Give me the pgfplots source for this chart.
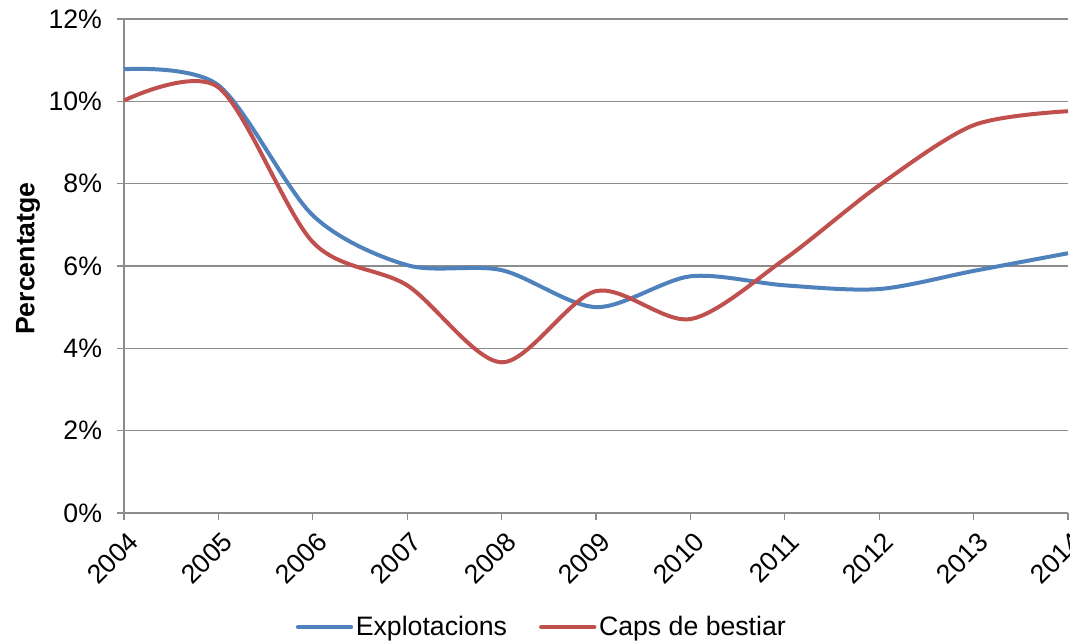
\documentclass[border=0pt]{standalone}
\usepackage{pgfplots}
\pgfplotsset{compat=1.18}
\usepackage{fontspec}
\setmainfont{Liberation Sans}

\definecolor{serieblau}{HTML}{4F81BD}
\definecolor{serievermell}{HTML}{C0504D}
\definecolor{graella}{HTML}{8C8C8C}

\begin{document}
\begin{tikzpicture}[x=1pt,y=1pt]
\begin{axis}[
    at={(0,0)}, anchor=south west,
    scale only axis,
    width=708pt, height=370.5pt,
    xmin=2004, xmax=2014,
    ymin=0, ymax=12,
    xtick={2004,...,2014},
    xticklabels={2004,2005,2006,2007,2008,2009,2010,2011,2012,2013,2014},
    ytick={0,2,...,12},
    yticklabels={0\%,2\%,4\%,6\%,8\%,10\%,12\%},
    ymajorgrids,
    grid style={graella, line width=0.9pt},
    axis line style={graella, line width=0.9pt},
    axis x line*=bottom,
    axis y line*=left,
    tick style={graella, line width=0.9pt},
    tick align=outside,
    major tick length=5pt,
    every tick label/.append style={font=\fontsize{20}{23}\selectfont},
    xticklabel style={rotate=45, anchor=north east, inner sep=0pt, xshift=-4pt, yshift=-7pt},
    yticklabel style={xshift=-8pt},
    ylabel={\bfseries Percentatge},
    ylabel style={at={(axis description cs:-0.1017,0.515)}, anchor=center,
        font=\fontsize{20}{23}\selectfont},
    legend style={at={(axis description cs:0.443,-0.231)}, anchor=center,
        draw=none, fill=none, font=\fontsize{20}{23}\selectfont,
        /tikz/every even column/.append style={column sep=22pt}},
    legend columns=2,
    legend cell align=left,
    legend image code/.code={\draw[#1, line cap=round] (0pt,0pt) -- (40pt,0pt);},
    clip=false,
]
\addplot[serieblau, line width=3pt, smooth, tension=0.5] coordinates {
    (2004,10.78) (2005,10.39) (2006,7.23) (2007,6.02) (2008,5.90)
    (2009,5.00) (2010,5.75) (2011,5.53) (2012,5.44) (2013,5.88) (2014,6.31)};
\addlegendentry{Explotacions}
\addplot[serievermell, line width=3pt, smooth, tension=0.5] coordinates {
    (2004,10.02) (2005,10.34) (2006,6.58) (2007,5.53) (2008,3.66)
    (2009,5.39) (2010,4.71) (2011,6.17) (2012,7.96) (2013,9.42) (2014,9.76)};
\addlegendentry{Caps de bestiar}
\end{axis}
\pgfresetboundingbox
\useasboundingbox (-93pt,-96.75pt) rectangle (709.5pt,384.75pt);
\end{tikzpicture}
\end{document}
